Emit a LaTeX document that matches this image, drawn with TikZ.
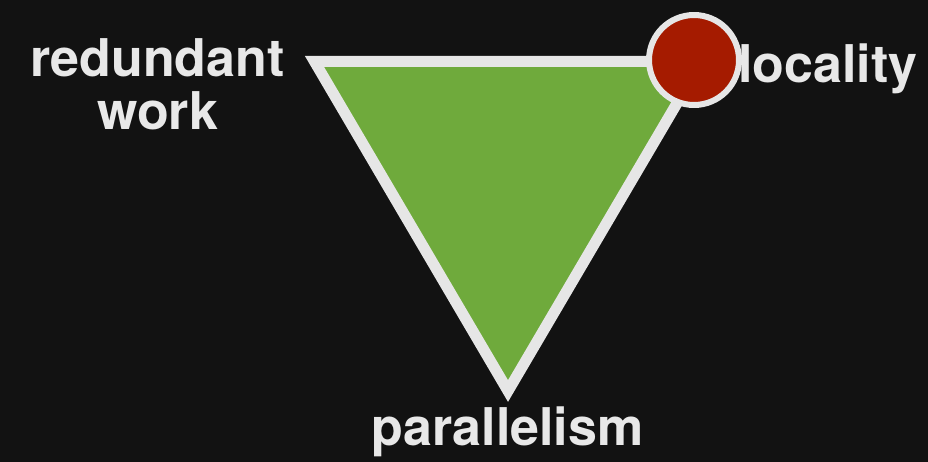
\documentclass[tikz,border=0pt]{standalone}
\usepackage{fontspec}
\setmainfont{TeX Gyre Heros}
\usepackage{xcolor}
\definecolor{slidebg}{HTML}{121212}
\definecolor{labelgray}{HTML}{E8E8E8}
\definecolor{ringgray}{HTML}{E6E6E6}
\definecolor{leafgreen}{HTML}{6FAA3C}
\definecolor{dotred}{HTML}{A51B00}
\usepackage{tikz}
\usetikzlibrary{positioning}

\begin{document}
\begin{tikzpicture}[
  x=0.02cm, y=-0.02cm,
  tradeoff/.style={
    font=\bfseries\fontsize{29.6}{30.4}\selectfont, text=labelgray,
    inner sep=0pt, align=center
  },
  marker/.style={
    circle, draw=ringgray, fill=dotred, line width=0.12cm,
    minimum size=1.8cm, inner sep=0pt
  }
]

\fill[slidebg] (0,0) rectangle (928,462);
\useasboundingbox (0,0) rectangle (928,462);

\coordinate (tl) at (314.5,61.5);
\coordinate (tr) at (701.5,61.5);
\coordinate (bt) at (508,391);

\filldraw[fill=leafgreen, draw=ringgray, line width=0.22cm, miter limit=10]
  (tl) -- (tr) -- (bt) -- cycle;

% base anchor sits on the last line
\node[tradeoff, anchor=base] (work) at (157.5,130) {redundant\\work};
\node[tradeoff, anchor=base west] (loc) at (738,83) {locality};
\node[tradeoff, anchor=base] (par) at (507.5,445) {parallelism};

\node[marker] (dot) at (694,60) {};

\end{tikzpicture}
\end{document}
